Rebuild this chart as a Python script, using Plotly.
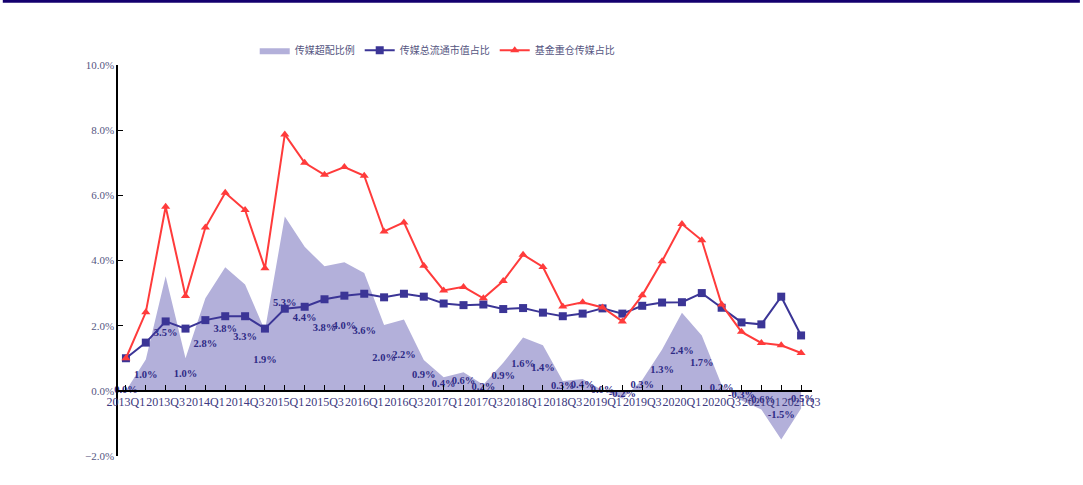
import plotly.graph_objects as go

quarters = ["2013Q1", "2013Q2", "2013Q3", "2013Q4", "2014Q1", "2014Q2", "2014Q3", "2014Q4",
            "2015Q1", "2015Q2", "2015Q3", "2015Q4", "2016Q1", "2016Q2", "2016Q3", "2016Q4",
            "2017Q1", "2017Q2", "2017Q3", "2017Q4", "2018Q1", "2018Q2", "2018Q3", "2018Q4",
            "2019Q1", "2019Q2", "2019Q3", "2019Q4", "2020Q1", "2020Q2", "2020Q3", "2020Q4",
            "2021Q1", "2021Q2", "2021Q3"]

# 传媒超配比例 (%)
overweight = [0.00, 0.96, 3.52, 1.00, 2.84, 3.79, 3.26, 1.85, 5.35, 4.42, 3.82, 3.95,
              3.62, 2.02, 2.19, 0.95, 0.42, 0.57, 0.19, 0.86, 1.64, 1.40, 0.30, 0.36,
              0.02, -0.24, 0.33, 1.27, 2.40, 1.70, 0.18, -0.30, -0.57, -1.49, -0.54]

# 传媒总流通市值占比 (%)
market_share = [1.00, 1.48, 2.13, 1.91, 2.17, 2.29, 2.29, 1.91, 2.52, 2.58, 2.81, 2.92,
                2.98, 2.87, 2.98, 2.89, 2.68, 2.63, 2.65, 2.51, 2.54, 2.40, 2.29, 2.37,
                2.53, 2.37, 2.61, 2.71, 2.72, 3.00, 2.55, 2.10, 2.04, 2.89, 1.70]

# 基金重仓传媒占比 (%)
fund_share = [1.00, 2.41, 5.65, 2.91, 5.01, 6.08, 5.55, 3.76, 7.87, 7.00, 6.63, 6.87,
              6.60, 4.89, 5.17, 3.84, 3.08, 3.19, 2.84, 3.37, 4.18, 3.80, 2.59, 2.72,
              2.56, 2.13, 2.93, 3.98, 5.12, 4.62, 2.65, 1.81, 1.47, 1.40, 1.16]

tick_text = [q if i % 2 == 0 else "" for i, q in enumerate(quarters)]
label_text = ["%.1f%%" % v for v in overweight]
label_y = [v / 2 for v in overweight]

SERIF = "Liberation Serif, Times New Roman, serif"
CJK = "Noto Sans CJK SC"

fig = go.Figure()

fig.add_trace(go.Scatter(
    x=quarters, y=overweight, name="传媒超配比例", mode="lines",
    fill="tozeroy", fillcolor="#B3B0DA", line=dict(width=0, color="#B3B0DA"),
))
fig.add_trace(go.Scatter(
    x=quarters, y=label_y, mode="text", text=label_text, showlegend=False,
    textfont=dict(family=SERIF, size=10.5, color="#2E2A85", weight="bold"),
    hoverinfo="skip", cliponaxis=False,
))
fig.add_trace(go.Scatter(
    x=quarters, y=market_share, name="传媒总流通市值占比", mode="lines+markers",
    line=dict(color="#3B3596", width=2),
    marker=dict(symbol="square", size=8, color="#3B3596"),
))
fig.add_trace(go.Scatter(
    x=quarters, y=fund_share, name="基金重仓传媒占比", mode="lines+markers",
    line=dict(color="#FF3B3B", width=2),
    marker=dict(symbol="triangle-up", size=8, color="#FF3B3B"),
))

fig.update_layout(
    width=1083, height=485,
    margin=dict(l=118, r=271, t=65, b=29),
    paper_bgcolor="white", plot_bgcolor="white",
    showlegend=True,
    legend=dict(orientation="h", x=0.197, y=1.075, xanchor="left", yanchor="top",
                font=dict(family=CJK, size=10, color="#55557F"),
                bgcolor="rgba(0,0,0,0)", itemwidth=30, tracegroupgap=0),
    xaxis=dict(
        type="category", range=[-0.4, 34.55],
        tickmode="array", tickvals=quarters, ticktext=tick_text,
        ticks="inside", ticklen=5, tickcolor="black",
        showline=True, linecolor="black", linewidth=1.5,
        showgrid=False, zeroline=False,
        anchor="free", position=2 / 12,
        tickfont=dict(family=SERIF, size=12, color="#3E3A80"),
        tickangle=0,
    ),
    yaxis=dict(
        range=[-2, 10], dtick=2, tickformat=".1f", ticksuffix="%",
        ticks="inside", ticklen=5, tickcolor="black",
        showline=True, linecolor="black", linewidth=1.5,
        showgrid=False, zeroline=False,
        tickfont=dict(family=SERIF, size=11, color="#55557F"),
    ),
    shapes=[dict(type="line", xref="paper", yref="paper",
                 x0=-0.166, x1=1.386, y0=1.163, y1=1.163,
                 line=dict(color="#14006E", width=3))],
)

fig.write_html("out.html", config={"displayModeBar": False},
               post_script="document.body.style.margin='0';document.body.style.overflow='hidden';")
